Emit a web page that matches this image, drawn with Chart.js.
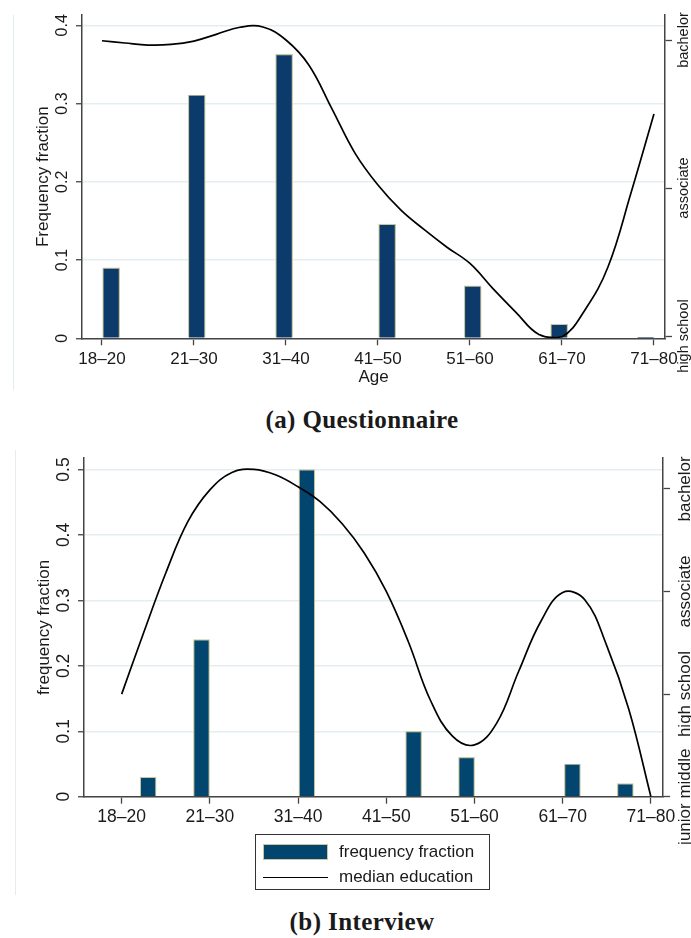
<!DOCTYPE html>
<html lang="en">
<head>
<meta charset="UTF-8">
<title>Age and median education</title>
<script src="https://cdn.jsdelivr.net/npm/chart.js"></script>
<style>
  body { margin: 0; background: #fff; font-family: "Liberation Sans", Arial, sans-serif; color: #1a1a1a; }
  .page { position: relative; width: 691px; height: 938px; overflow: hidden; }
  .panel { position: absolute; left: 0; }
  .frame { position: absolute; width: 0; border-left: 1.5px solid #e3ecf0; }
  .caption { position: absolute; left: 0; width: 724px; text-align: center; line-height: 30px;
             font-family: "Liberation Serif", "DejaVu Serif", serif; font-weight: bold; font-size: 25px; letter-spacing: 0.4px; }
  .legend { position: absolute; left: 255px; top: 834px; width: 233px; height: 54px; border: 1.3px solid #333; }
  .legend .row { position: absolute; left: 7px; height: 20px; display: flex; align-items: center; font-size: 17px; white-space: nowrap; }
  .legend .swatch { width: 65px; height: 16px; background: #02456f; border: 1px solid #c9c79b; box-sizing: border-box; margin-right: 11px; }
  .legend .line { width: 65px; height: 0; border-top: 1.6px solid #000; margin-right: 11px; }
</style>
</head>
<body>
<div class="page">
  <div class="frame" style="left:13px; top:15px; height:375px;"></div>
  <canvas id="chartA" class="panel" style="top:0" width="691" height="400"></canvas>
  <div class="caption" style="top:405px">(a) Questionnaire</div>

  <div class="frame" style="left:15px; top:450px; height:445px;"></div>
  <canvas id="chartB" class="panel" style="top:440px" width="691" height="420"></canvas>
  <div class="legend">
    <div class="row" style="top:7px"><span class="swatch"></span>frequency fraction</div>
    <div class="row" style="top:32px"><span class="line"></span>median education</div>
  </div>
  <div class="caption" style="top:907px">(b) Interview</div>
</div>

<script>
// categorias de edad (posiciones 0..6 en el eje x)
const ageGroups = ['18–20', '21–30', '31–40', '41–50', '51–60', '61–70', '71–80'];

// niveles educativos del eje derecho (valor 1, 2, 3 ...)
const levelsA = ['high school', 'associate', 'bachelor'];
const levelsB = ['junior middle', 'high school', 'associate', 'bachelor'];

// marcas del eje izquierdo
const fracTicksA = [0, 0.1, 0.2, 0.3, 0.4];
const fracTicksB = [0, 0.1, 0.2, 0.3, 0.4, 0.5];

// posiciones de lectura de la curva (cada cuarto de categoria)
const linePos = [0, 0.25, 0.5, 0.75, 1, 1.25, 1.5, 1.75, 2, 2.25, 2.5, 2.75, 3,
                 3.25, 3.5, 3.75, 4, 4.25, 4.5, 4.75, 5, 5.25, 5.5, 5.75, 6];

// (a) Questionnaire
const qBarPos  = [0.10, 1.03, 1.98, 3.10, 4.03, 4.97, 5.91];
const qBarFrac = [0.090, 0.311, 0.363, 0.146, 0.067, 0.018, 0.001];
const qLineEdu = [2.995, 2.98, 2.966, 2.97, 2.993, 3.04, 3.086, 3.088, 3.0, 2.83, 2.535, 2.236, 2.02,
                  1.85, 1.72, 1.60, 1.49, 1.32, 1.16, 1.01, 0.995, 1.176, 1.466, 1.966, 2.5];

// (b) Interview
const iBarPos  = [0.30, 0.905, 2.10, 3.31, 3.91, 5.11, 5.71];
const iBarFrac = [0.03, 0.24, 0.50, 0.10, 0.06, 0.05, 0.02];
const iLineEdu = [2.0, 2.60, 3.18, 3.68, 3.99, 4.16, 4.19, 4.135, 4.02, 3.875, 3.66, 3.375, 3.0,
                  2.51, 1.94, 1.59, 1.505, 1.715, 2.22, 2.705, 2.99, 2.92, 2.47, 1.85, 1.0];

const FONT = '"Liberation Sans", Arial, sans-serif';
const INK = '#1a1a1a';
const GRID = '#e4edf1';
const AXIS = '#444';

// ancho del texto mas largo (Chart.js centra las etiquetas giradas con este valor)
function widest(labels, size) {
  const ctx = document.createElement('canvas').getContext('2d');
  ctx.font = size + 'px ' + FONT;
  return Math.max(...labels.map(t => ctx.measureText(t).width));
}

function makeChart(id, p) {
  const tickStr = p.fracTicks.map(String);
  const leftPad = p.yWidth - 6 - widest(tickStr, p.yTickSize) / 2 - p.yTickCenter;
  const rightPad = p.y1Center - p.yWidthRightEdge - 7 - widest(p.levels, p.levelSize) / 2;

  return new Chart(document.getElementById(id), {
    type: 'bar',
    data: {
      datasets: [
        {
          type: 'line',
          label: 'median education',
          data: linePos.map((x, i) => ({ x: x, y: p.lineEdu[i] })),
          yAxisID: 'y1',
          borderColor: '#000',
          borderWidth: 1.7,
          pointRadius: 0,
          tension: 0.4,
          fill: false,
          order: 0
        },
        {
          type: 'bar',
          label: 'frequency fraction',
          data: p.barPos.map((x, i) => ({ x: x, y: p.barFrac[i] })),
          yAxisID: 'y',
          backgroundColor: p.barColor,
          borderColor: '#c9c79b',
          borderWidth: 1.2,
          barThickness: p.barWidth,
          order: 1
        }
      ]
    },
    options: {
      responsive: false,
      animation: false,
      layout: { padding: { top: p.padTop, bottom: p.padBottom, left: 0, right: 0 } },
      plugins: { legend: { display: false }, tooltip: { enabled: false } },
      scales: {
        x: {
          type: 'linear',
          min: p.xMin,
          max: p.xMax,
          offset: false,
          afterBuildTicks: s => { s.ticks = ageGroups.map((_, i) => ({ value: i })); },
          afterFit: s => { s.height = p.xHeight; },
          ticks: {
            callback: v => ageGroups[v],
            font: { family: FONT, size: p.xTickSize },
            color: INK,
            padding: p.xPad,
            maxRotation: 0,
            autoSkip: false
          },
          grid: { offset: false, drawOnChartArea: false, tickLength: 7, tickColor: AXIS, tickWidth: 1.3 },
          border: { color: AXIS, width: 1.5 },
          title: {
            display: !!p.xTitle,
            text: p.xTitle || '',
            font: { family: FONT, size: 17 },
            color: INK,
            padding: { top: 0, bottom: 1.1 }
          }
        },
        y: {
          type: 'linear',
          position: 'left',
          min: 0,
          max: p.yMax,
          afterBuildTicks: s => { s.ticks = p.fracTicks.map(v => ({ value: v })); },
          afterFit: s => { s.width = p.yWidth; },
          ticks: {
            callback: v => String(v),
            font: { family: FONT, size: p.yTickSize },
            color: INK,
            minRotation: 90,
            maxRotation: 90,
            crossAlign: 'center',
            padding: leftPad
          },
          grid: { color: GRID, lineWidth: 1.5, tickLength: 6, tickColor: AXIS, tickWidth: 1.3 },
          border: { color: AXIS, width: 1.5 },
          title: {
            display: true,
            text: p.yTitle,
            font: { family: FONT, size: 17 },
            color: INK,
            padding: { top: p.yTitlePad, bottom: 0 }
          }
        },
        y1: {
          type: 'linear',
          position: 'right',
          min: p.y1Min,
          max: p.y1Max,
          beginAtZero: false,
          afterBuildTicks: s => { s.ticks = p.levels.map((_, i) => ({ value: i + 1 })); },
          afterFit: s => { s.width = p.y1Width; },
          ticks: {
            callback: v => p.levels[Math.round(v) - 1],
            font: { family: FONT, size: p.levelSize },
            color: INK,
            minRotation: 90,
            maxRotation: 90,
            crossAlign: 'center',
            padding: rightPad
          },
          grid: { drawOnChartArea: false, tickLength: 7, tickColor: AXIS, tickWidth: 1.3 },
          border: { color: AXIS, width: 1.5 }
        }
      }
    }
  });
}

makeChart('chartA', {
  barPos: qBarPos, barFrac: qBarFrac, lineEdu: qLineEdu,
  levels: levelsA, fracTicks: fracTicksA,
  barColor: '#0c3b6b', barWidth: 17,
  xMin: -0.217, xMax: 6.12, yMax: 0.4132, y1Min: 0.9845, y1Max: 3.169,
  padTop: 15, padBottom: 11.7, xHeight: 50, xPad: 3.5, xTickSize: 17, xTitle: 'Age',
  yWidth: 82, yTickSize: 16, yTickCenter: 62.5, yTitle: 'Frequency fraction', yTitlePad: 32.8,
  y1Width: 26, yWidthRightEdge: 665, y1Center: 684, levelSize: 14.5
});

makeChart('chartB', {
  barPos: iBarPos, barFrac: iBarFrac, lineEdu: iLineEdu,
  levels: levelsB, fracTicks: fracTicksB,
  barColor: '#02456f', barWidth: 16,
  xMin: -0.427, xMax: 6.137, yMax: 0.5176, y1Min: 1.0, y1Max: 4.301,
  padTop: 18, padBottom: 25.3, xHeight: 38, xPad: 2.5, xTickSize: 17.5, xTitle: '',
  yWidth: 84, yTickSize: 17.5, yTickCenter: 64, yTitle: 'frequency fraction', yTitlePad: 33.8,
  y1Width: 28, yWidthRightEdge: 663, y1Center: 685, levelSize: 17
});
</script>
</body>
</html>
